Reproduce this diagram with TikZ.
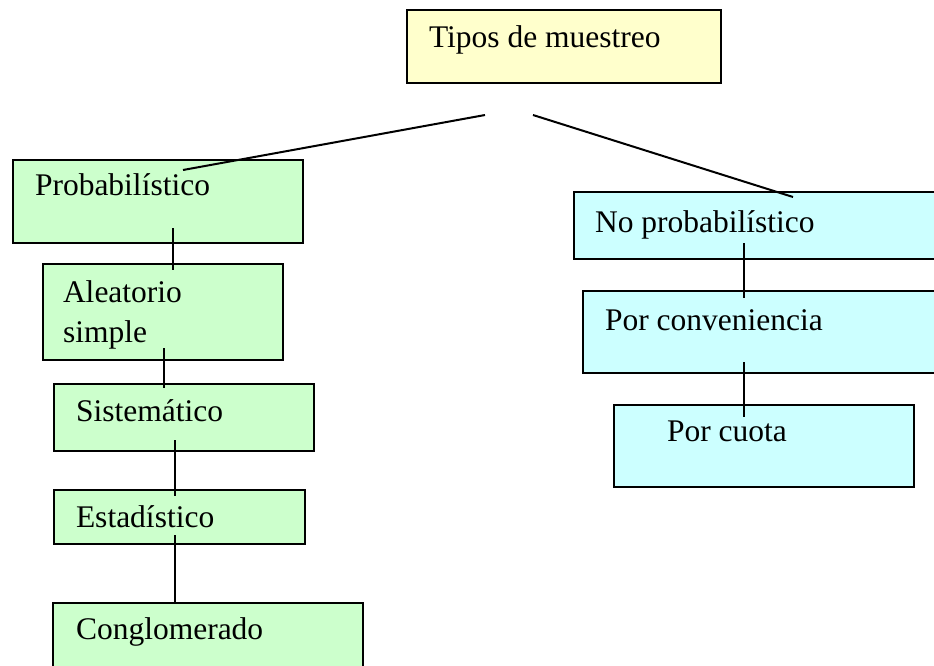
\documentclass[tikz,border=0pt]{standalone}
\usepackage{fontspec}
\setmainfont{LiberationSerif}[Extension=.ttf, UprightFont=*-Regular, BoldFont=*-Bold, ItalicFont=*-Italic, BoldItalicFont=*-BoldItalic]
\definecolor{pyellow}{HTML}{FFFFCC}
\definecolor{pgreen}{HTML}{CCFFCC}
\definecolor{pcyan}{HTML}{CCFFFF}
\begin{document}
\begin{tikzpicture}[x=1pt,y=-1pt,
  box/.style={draw=black, line width=2pt, rectangle, inner sep=0pt, outer sep=0pt, anchor=north west},
  lbl/.style={anchor=base west, inner sep=0pt, outer sep=0pt, font=\rmfamily\fontsize{31.5}{40}\selectfont},
  link/.style={draw=black, line width=2pt}]
\useasboundingbox (0,0) rectangle (934,665);
\clip (0,0) rectangle (934,665);
% boxes
\node[box, fill=pyellow, minimum width=314pt, minimum height=73pt] (tipos) at (407,10) {};
\node[box, fill=pgreen, minimum width=290pt, minimum height=83pt] (prob) at (13,160) {};
\node[box, fill=pgreen, minimum width=240pt, minimum height=96pt] (alea) at (43,264) {};
\node[box, fill=pgreen, minimum width=260pt, minimum height=67pt] (sist) at (54,384) {};
\node[box, fill=pgreen, minimum width=251pt, minimum height=54pt] (esta) at (54,490) {};
\node[box, fill=pgreen, minimum width=310pt, minimum height=100pt] (cong) at (53,603) {};
\node[box, fill=pcyan, minimum width=390pt, minimum height=67pt] (noprob) at (574,192) {};
\node[box, fill=pcyan, minimum width=380pt, minimum height=82pt] (conv) at (583,291) {};
\node[box, fill=pcyan, minimum width=300pt, minimum height=82pt] (cuota) at (614,405) {};
% texts
\node[lbl] (tTipos) at (429,47) {Tipos de muestreo};
\node[lbl] (tProb) at (35,195) {Probabilístico};
\node[lbl] (tAlea1) at (63,302) {Aleatorio};
\node[lbl] (tAlea2) at (63,342) {simple};
\node[lbl] (tSist) at (76,421) {Sistemático};
\node[lbl] (tEsta) at (76,527) {Estadístico};
\node[lbl] (tCong) at (76,639) {Conglomerado};
\node[lbl] (tNoprob) at (595,232) {No probabilístico};
\node[lbl] (tConv) at (605,330) {Por conveniencia};
\node[lbl] (tCuota) at (667,441) {Por cuota};
% connector end points
\coordinate (tl) at (485,115);
\coordinate (pl) at (183,170);
\coordinate (tr) at (533,115);
\coordinate (nr) at (793,197);
\coordinate (p1) at (173,228);
\coordinate (a1) at (173,270);
\coordinate (a2) at (164,348);
\coordinate (s1) at (164,388);
\coordinate (s2) at (175,440);
\coordinate (e1) at (175,496);
\coordinate (e2) at (175,535);
\coordinate (c1) at (175,603);
\coordinate (n1) at (744,243);
\coordinate (v1) at (744,298);
\coordinate (v2) at (744,362);
\coordinate (q1) at (744,417);
% connectors
\draw[link] (tl) -- (pl);
\draw[link] (tr) -- (nr);
\draw[link] (p1) -- (a1);
\draw[link] (a2) -- (s1);
\draw[link] (s2) -- (e1);
\draw[link] (e2) -- (c1);
\draw[link] (n1) -- (v1);
\draw[link] (v2) -- (q1);
\end{tikzpicture}
\end{document}
